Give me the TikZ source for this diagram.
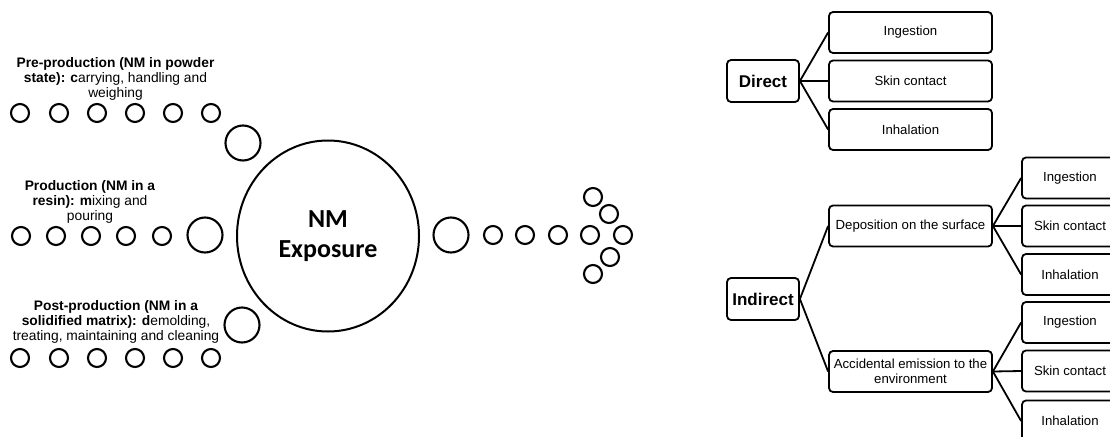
\documentclass[tikz,border=0pt]{standalone}
\usepackage{fontspec}
\setmainfont{Liberation Sans}
\newfontfamily\carlito{Carlito}
\usetikzlibrary{shapes.geometric}
\begin{document}
\begin{tikzpicture}[x=1pt,y=-1pt,
  dot/.style={circle,draw,line width=2.1pt,minimum size=18pt,inner sep=0pt},
  mdot/.style={circle,draw,line width=2.1pt,minimum size=35pt,inner sep=0pt},
  lbl/.style={align=center,inner sep=0pt,font=\fontsize{13.8}{14.8}\selectfont},
  box/.style={draw,rounded corners=4pt,line width=1.8pt,minimum width=163pt,minimum height=41pt,inner sep=1pt,align=center,font=\fontsize{13.2}{14.5}\selectfont},
  sbox/.style={box,minimum width=96pt},
  hbox/.style={box,minimum width=72pt,minimum height=42pt,font=\fontsize{17}{19}\selectfont\bfseries},
  conn/.style={line width=1.8pt}
]
\clip (0,0) rectangle (1110,436);
% labels
\node[lbl] (l1) at (115.5,79) {\textbf{Pre-production (NM in powder}\\\textbf{state): c}arrying, handling and\\weighing};
\node[lbl] (l2) at (90,202) {\textbf{Production (NM in a}\\\textbf{resin): m}ixing and\\pouring};
\node[lbl] (l3) at (116,322) {\textbf{Post-production (NM in a}\\\textbf{solidified matrix): d}emolding,\\treating, maintaining and cleaning};
% top row
\foreach \x [count=\i] in {20,59,97,135,173,211} \node[dot] (t\i) at (\x,113) {};
\node[mdot] (tm) at (243,143) {};
% middle row
\foreach \x [count=\i] in {21,56,91,126,162} \node[dot] (m\i) at (\x,236) {};
\node[mdot] (mm) at (205,235) {};
% bottom row
\foreach \x [count=\i] in {20,59,97,135,173,211} \node[dot] (b\i) at (\x,358) {};
\node[mdot] (bm) at (242,325) {};
% main
\node[ellipse,draw,line width=2pt,minimum width=182pt,minimum height=191pt,inner sep=0pt,align=center,font=\fontsize{26}{29.5}\selectfont\carlito\bfseries] (main) at (328,236) {NM\\Exposure};
% right arrow
\node[mdot] (rm) at (451,235) {};
\foreach \x [count=\i] in {493,525,558,590,623} \node[dot] (r\i) at (\x,235) {};
\node[dot] (ru1) at (593,197) {};
\node[dot] (ru2) at (609,214) {};
\node[dot] (rd1) at (610,257) {};
\node[dot] (rd2) at (593,274) {};
% tree: direct
\node[hbox] (direct) at (763,81) {Direct};
\node[box] (d1) at (910.5,32.5) {Ingestion};
\node[box] (d2) at (910.5,81) {Skin contact};
\node[box] (d3) at (910.5,129.5) {Inhalation};
\foreach \n in {d1,d2,d3} \draw[conn] (direct.east) -- (\n.west);
% tree: indirect
\node[hbox] (indirect) at (763,299) {Indirect};
\node[box] (dep) at (910.5,226) {Deposition on the surface};
\node[box] (acc) at (910.5,371.5) {Accidental emission to the\\environment};
\draw[conn] (indirect.east) -- (dep.west);
\draw[conn] (indirect.east) -- (acc.west);
\node[sbox] (e1) at (1070,178) {Ingestion};
\node[sbox] (e2) at (1070,226) {Skin contact};
\node[sbox] (e3) at (1070,274.5) {Inhalation};
\node[sbox] (f1) at (1070,322.5) {Ingestion};
\node[sbox] (f2) at (1070,371) {Skin contact};
\node[sbox] (f3) at (1070,421) {Inhalation};
\foreach \n in {e1,e2,e3} \draw[conn] (dep.east) -- (\n.west);
\foreach \n in {f1,f2,f3} \draw[conn] (acc.east) -- (\n.west);
\end{tikzpicture}
\end{document}
